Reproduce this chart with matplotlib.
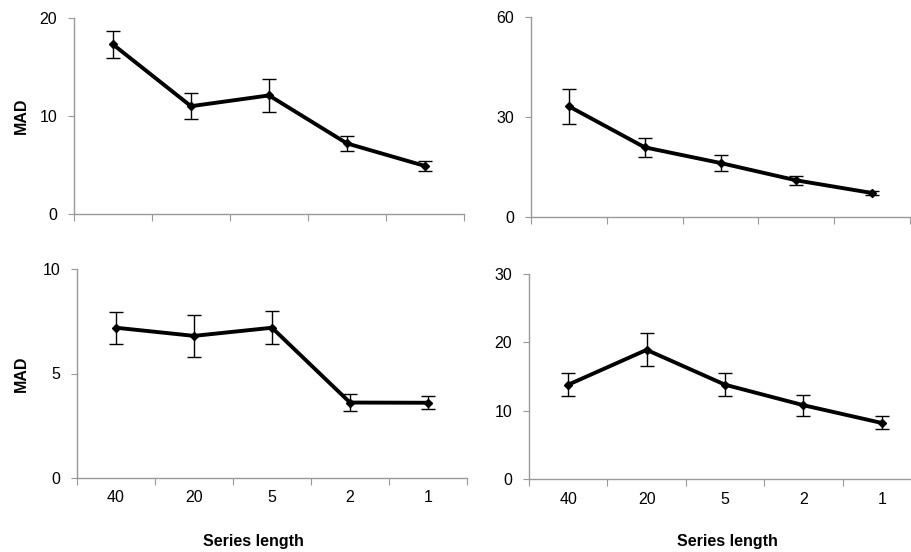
import numpy as np
import matplotlib
matplotlib.use("Agg")
import matplotlib.pyplot as plt

plt.rcParams['font.family'] = ['Liberation Sans', 'DejaVu Sans']

series = ['40', '20', '5', '2', '1']

# top left
mad_a = [17.3, 11.0, 12.1, 7.2, 4.9]
err_a = [1.35, 1.3, 1.7, 0.75, 0.55]
# top right
mad_b = [33.2, 20.9, 16.2, 11.0, 7.2]
err_b = [5.2, 2.9, 2.3, 1.25, 0.6]
# bottom left
mad_c = [7.19, 6.8, 7.19, 3.61, 3.6]
err_c = [0.76, 1.0, 0.8, 0.42, 0.31]
# bottom right
mad_d = [13.8, 18.9, 13.8, 10.8, 8.2]
err_d = [1.7, 2.4, 1.65, 1.55, 0.95]

W, H = 911, 552
fig = plt.figure(figsize=(W / 100, H / 100), dpi=100)


def px_axes(left, top, right, bottom):
    return fig.add_axes([left / W, 1 - bottom / H, (right - left) / W, (bottom - top) / H])


def panel(ax, vals, errs, ymax, ystep, ylabel=False, xlabels=False):
    x = np.arange(len(series))
    ax.errorbar(x, vals, yerr=errs, color='black', lw=2.8, marker='D', ms=4.5,
                ecolor='black', elinewidth=1, capsize=5, capthick=1, zorder=3)
    ax.set_xlim(-0.5, len(series) - 0.5)
    ax.set_ylim(0, ymax)
    ax.set_yticks(np.arange(0, ymax + 0.1, ystep))
    ax.set_xticks(np.arange(-0.5, len(series)), minor=False)
    ax.set_xticklabels([])
    ax.set_xticks(x, minor=True)
    if xlabels:
        ax.set_xticklabels(series, minor=True)
        ax.set_xlabel('Series length', fontsize=11.5, fontweight='bold')
    ax.tick_params(axis='x', which='minor', length=0, labelsize=11.5, pad=9)
    ax.tick_params(axis='x', which='major', length=5, color='#999999')
    ax.tick_params(axis='y', length=4, color='#999999', labelsize=11.5, pad=8)
    for s in ['top', 'right']:
        ax.spines[s].set_visible(False)
    for s in ['left', 'bottom']:
        ax.spines[s].set_color('#999999')
        ax.spines[s].set_linewidth(1)
    if ylabel:
        ax.set_ylabel('MAD', fontsize=11.5, fontweight='bold')
    ax.patch.set_visible(False)


ax1 = px_axes(74, 18, 464, 214)
panel(ax1, mad_a, err_a, 20, 10, ylabel=True)
ax1.yaxis.set_label_coords((29 - 74) / 390, 0.5)

ax2 = px_axes(531, 17, 910, 217)
panel(ax2, mad_b, err_b, 60, 30)

ax3 = px_axes(77, 269, 467, 478)
panel(ax3, mad_c, err_c, 10, 5, ylabel=True, xlabels=True)
ax3.yaxis.set_label_coords((29 - 77) / 390, 0.5)

ax4 = px_axes(529, 274, 921, 479)
panel(ax4, mad_d, err_d, 30, 10, xlabels=True)
ax4.xaxis.set_label_coords((727 - 529) / (921 - 529), -0.27)
ax3.xaxis.set_label_coords((253 - 77) / (467 - 77), -0.27)

fig.savefig('out.png', dpi=100)
